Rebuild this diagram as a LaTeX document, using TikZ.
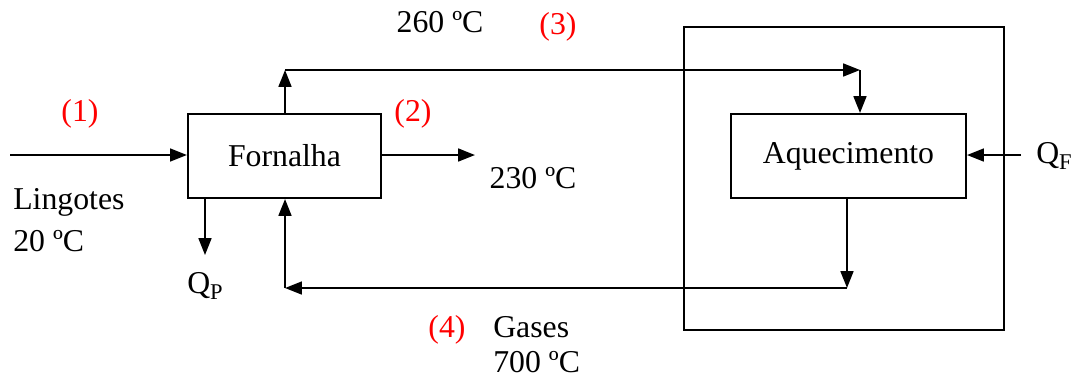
\documentclass[tikz,border=0pt]{standalone}
\usepackage{fontspec}
\setmainfont{Liberation Serif}
\usetikzlibrary{arrows.meta, calc, positioning}

\newcommand{\lowsub}[1]{\raisebox{-0.35ex}{\fontsize{16}{16}\selectfont #1}}

\begin{document}
\begin{tikzpicture}[
    x=0.025cm, y=-0.025cm,
    font=\fontsize{22.6}{25}\selectfont,
    unit/.style={
        draw=black, line width=1.4pt, fill=white,
        minimum height=2.1cm, inner sep=0pt,
        align=center, text=black
    },
    flow/.style={
        -{Triangle[length=0.42cm, width=0.32cm]}, line width=1.4pt, black
    },
    tag/.style={text=red, inner sep=0pt},
    note/.style={text=black, inner sep=0pt}
]
\useasboundingbox (0,0) rectangle (1072,378);

% outer casing
\node[draw, line width=1.4pt, minimum width=8cm, minimum height=7.575cm,
    inner sep=0pt] (casing) at (844,178.5) {};

\node[unit, minimum width=4.83cm] (forn) at (284.5,156) {Fornalha};
\node[unit, minimum width=5.875cm] (aq) at (848.5,156) {Aquecimento};

\coordinate (in) at (10,155);
\coordinate (out) at (475,155);
\coordinate (t1) at (285,70);
\coordinate (t2) at (860,70);
\coordinate (b1) at (847,288);
\coordinate (b2) at (285,288);
\coordinate (qp) at (205,255);
\coordinate (qf) at (1021,155);

\draw[flow] (in) -- (in -| forn.west);
\draw[flow] (out -| forn.east) -- (out);
\draw[flow] (t1 |- forn.north) -- (t1);
\draw[flow] (t1) -- (t2);
\draw[flow] (t2) -- (t2 |- aq.north);
\draw[flow] (b1 |- aq.south) -- (b1);
\draw[flow] (b1) -- (b2);
\draw[flow] (b2) -- (b2 |- forn.south);
\draw[flow] (qp |- forn.south) -- (qp);
\draw[flow] (qf) -- (qf -| aq.east);

\node[tag] (s1) at (80,114) {(1)};
\node[tag] (s2) at (413,114) {(2)};
\node[tag] (s3) at (558,27) {(3)};
\node[tag] (s4) at (447,330) {(4)};

\node[note] (temp3) at (440,22) {260 ºC};
\node[note] (temp2) at (533,178) {230 ºC};
\node[note, anchor=west, align=left] (ingot) at (13,220) {Lingotes\\[0.2em]20 ºC};
\node[note, anchor=west, align=left] (gas) at (493,345) {Gases\\700 ºC};
\node[note] (lossp) at (205,286) {Q\lowsub{P}};
\node[note, anchor=west] (heatf) at (1036,156) {Q\lowsub{F}};
\end{tikzpicture}
\end{document}
